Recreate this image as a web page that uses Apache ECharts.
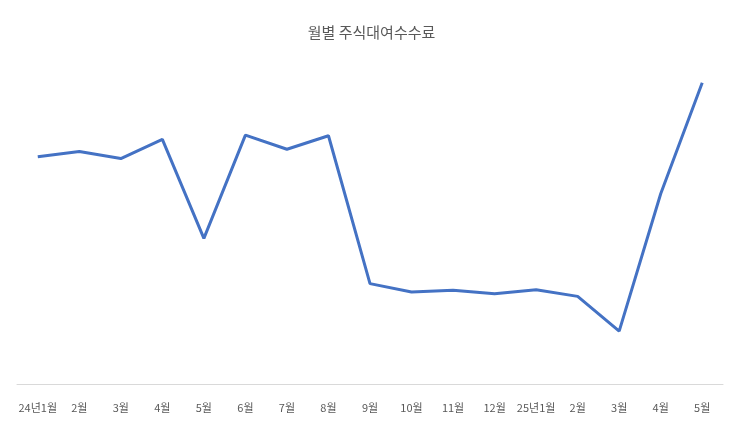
<!DOCTYPE html>
<html><head><meta charset="utf-8">
<script src="https://cdn.jsdelivr.net/npm/echarts@6/dist/echarts.min.js"></script>
<style>html,body{margin:0;padding:0;background:#fff}#c{width:743px;height:426px}</style>
</head><body><div id="c"></div>
<script>
const categories=['24년1월','2월','3월','4월','5월','6월','7월','8월','9월','10월','11월','12월','25년1월','2월','3월','4월','5월'];
const values=[14121,14441,14001,15199,9045,15461,14579,15418,6234,5716,5822,5610,5857,5442,3285,11819,18715];
const labelPos=['top','bottom','top','right','right','top','bottom','right','bottom','top','bottom','top','bottom','top','right','right','top'];
const data=values.map((v,i)=>{
  const d={value:v,label:{position:labelPos[i]}};
  if(i===values.length-1)d.label.color='#ff0000',d.label.fontWeight='bold';
  return d;
});
const chart=echarts.init(document.getElementById('c'));
chart.setOption({
  animation:false,
  title:{text:'월별 주식대여수수료',left:'center',top:20,textStyle:{color:'#595959',fontSize:15,fontWeight:'normal',fontFamily:'Noto Sans CJK KR'}},
  grid:{left:17,right:20,top:62,bottom:42},
  xAxis:{type:'category',data:categories,boundaryGap:true,axisTick:{show:false},
    axisLine:{lineStyle:{color:'#d9d9d9'}},
    axisLabel:{interval:0,color:'#595959',fontSize:11,margin:18,fontFamily:'Noto Sans CJK KR'}},
  yAxis:{type:'value',min:0,max:20000,show:false,splitLine:{show:false}},
  series:[{type:'line',data:data,symbol:'circle',symbolSize:1,showSymbol:true,
    itemStyle:{color:'#4472C4',opacity:0},lineStyle:{color:'#4472C4',width:3},
    label:{show:true,color:'#595959',fontSize:12,distance:12,fontFamily:'Noto Sans CJK KR',
      formatter:p=>p.value.toLocaleString('en-US')}}]
});
</script></body></html>
